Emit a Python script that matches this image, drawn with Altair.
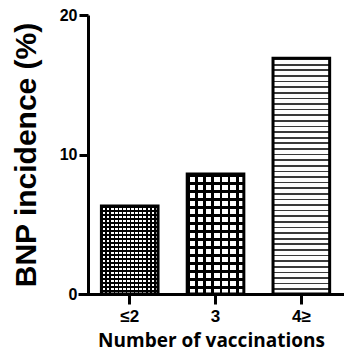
import altair as alt
import pandas as pd

categories = ["≤2", "3", "4≥"]
values = [6.3, 8.6, 16.9]
y_ticks = [0, 10, 20]

df = pd.DataFrame({"group": categories, "incidence": values})


def stripes(n, duty, on, off, vertical=False):
    stops = []
    for k in range(n):
        a = k / n
        b = (k + duty) / n
        c = (k + 1) / n
        stops += [
            alt.GradientStop(offset=a, color=on),
            alt.GradientStop(offset=b, color=on),
            alt.GradientStop(offset=b, color=off),
            alt.GradientStop(offset=c, color=off),
        ]
    if vertical:
        return alt.LinearGradient(gradient="linear", stops=stops, x1=0, y1=0, x2=1, y2=0)
    return alt.LinearGradient(gradient="linear", stops=stops, x1=0, y1=0, x2=0, y2=1)


CLEAR = "rgba(0,0,0,0)"

x_enc = alt.X(
    "group:N",
    sort=categories,
    scale=alt.Scale(paddingInner=0.34, paddingOuter=0.22, align=0.62),
    axis=alt.Axis(
        title="Number of vaccinations",
        labelAngle=0,
        labelPadding=4,
        titlePadding=7,
        titleFont="Open Sans",
        titleFontSize=19,
        ticks=True,
        tickSize=10,
        tickWidth=3,
        tickColor="black",
    ),
)
y_enc = alt.Y(
    "incidence:Q",
    scale=alt.Scale(domain=[0, 20]),
    axis=alt.Axis(
        title="BNP incidence (%)",
        values=y_ticks,
        offset=-10,
        titlePadding=18,
        titleFont="Liberation Sans",
        titleFontSize=30,
        labelFontSize=16,
    ),
)

base = alt.Chart(df).encode(x=x_enc, y=y_enc)

# bar 1: fine checker
b1a = base.transform_filter(alt.datum.group == categories[0]).mark_bar(
    fill=stripes(22, 0.4, "black", "white")
)
b1b = base.transform_filter(alt.datum.group == categories[0]).mark_bar(
    fill=stripes(14, 0.4, "black", CLEAR, vertical=True),
    stroke="black", strokeWidth=3,
)
# bar 2: coarse checker
b2a = base.transform_filter(alt.datum.group == categories[1]).mark_bar(
    fill=stripes(15, 0.35, "black", "white")
)
b2b = base.transform_filter(alt.datum.group == categories[1]).mark_bar(
    fill=stripes(7, 0.35, "black", CLEAR, vertical=True),
    stroke="black", strokeWidth=3,
)
# bar 3: horizontal stripes
b3 = base.transform_filter(alt.datum.group == categories[2]).mark_bar(
    fill=stripes(42, 0.3, "#3a3a3a", "white"),
    stroke="black", strokeWidth=3,
)

chart = (
    alt.layer(b1a, b1b, b2a, b2b, b3)
    .properties(
        width=266,
        height=279,
        autosize=alt.AutoSizeParams(type="none"),
        padding={"left": 70, "top": 7, "right": 0, "bottom": 60},
    )
    .configure_view(stroke=None)
    .configure_axis(
        grid=False,
        domainColor="black",
        domainWidth=3,
        tickColor="black",
        tickWidth=3,
        tickSize=9,
        labelFont="Liberation Sans",
        labelFontWeight="bold",
        labelFontSize=17,
        labelColor="black",
        titleColor="black",
        titleFontWeight="bold",
    )
)

chart.save("out.html", embed_options={"renderer": "svg", "actions": False})
